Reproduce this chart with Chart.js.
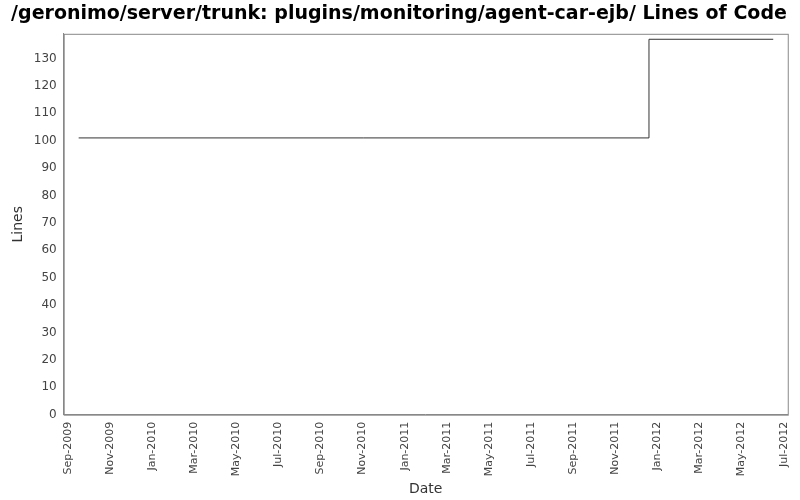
<!DOCTYPE html>
<html><head><meta charset="utf-8">
<script src="https://cdn.jsdelivr.net/npm/chart.js@4"></script>
<style>html,body{margin:0;background:#fff}#w{width:800px;height:500px}</style>
</head><body><div id="w"><canvas id="c"></canvas></div>
<script>
// x in months since 1 Sep 2009
const monthsX = [0.52, 27.6, 27.6, 33.5];
const linesY = [101, 101, 137, 137];
const tickLabels = ["Sep-2009","Nov-2009","Jan-2010","Mar-2010","May-2010","Jul-2010","Sep-2010","Nov-2010","Jan-2011","Mar-2011","May-2011","Jul-2011","Sep-2011","Nov-2011","Jan-2012","Mar-2012","May-2012","Jul-2012"];
const tickPos = tickLabels.map((_, i) => i * 2);

const border = {id:'border', afterDraw(ch){const a=ch.chartArea,x=ch.ctx;x.save();x.strokeStyle='#888';x.lineWidth=1;x.strokeRect(a.left+0.5,a.top+0.5,a.right-a.left,a.bottom-a.top);x.restore();}};

new Chart(document.getElementById('c'), {
  type:'line',
  data:{datasets:[{data:monthsX.map((x,i)=>({x,y:linesY[i]})),borderColor:'#333',borderWidth:1,pointRadius:0,fill:false,tension:0}]},
  plugins:[border],
  options:{
    responsive:true,maintainAspectRatio:false,animation:false,
    layout:{padding:{left:6,right:8,top:0,bottom:2}},
    plugins:{legend:{display:false},tooltip:{enabled:false},
      title:{display:true,text:'/geronimo/server/trunk: plugins/monitoring/agent-car-ejb/ Lines of Code',font:{family:'DejaVu Sans',size:19,weight:'bold'},color:'#000',padding:{top:3,bottom:8}}},
    scales:{
      x:{type:'linear',min:-0.19,max:34.19,
        afterBuildTicks(s){s.ticks=tickPos.map(v=>({value:v}));},
        ticks:{autoSkip:false,maxRotation:90,minRotation:90,color:'#444',font:{family:'DejaVu Sans',size:11},callback:(v)=>tickLabels[v/2]},
        grid:{display:false,drawTicks:true,tickLength:4,color:'#888'},border:{color:'#888'},
        title:{display:true,text:'Date',color:'#333',font:{family:'DejaVu Sans',size:14},padding:{top:2,bottom:0}}},
      y:{min:0,max:139,
        afterBuildTicks(s){s.ticks=[];for(let v=0;v<=130;v+=10)s.ticks.push({value:v});},
        ticks:{color:'#444',font:{family:'DejaVu Sans',size:12}},
        grid:{display:false,tickLength:4},border:{color:'#888'},
        title:{display:true,text:'Lines',color:'#333',font:{family:'DejaVu Sans',size:14}}}
    }
  }
});
</script></body></html>
